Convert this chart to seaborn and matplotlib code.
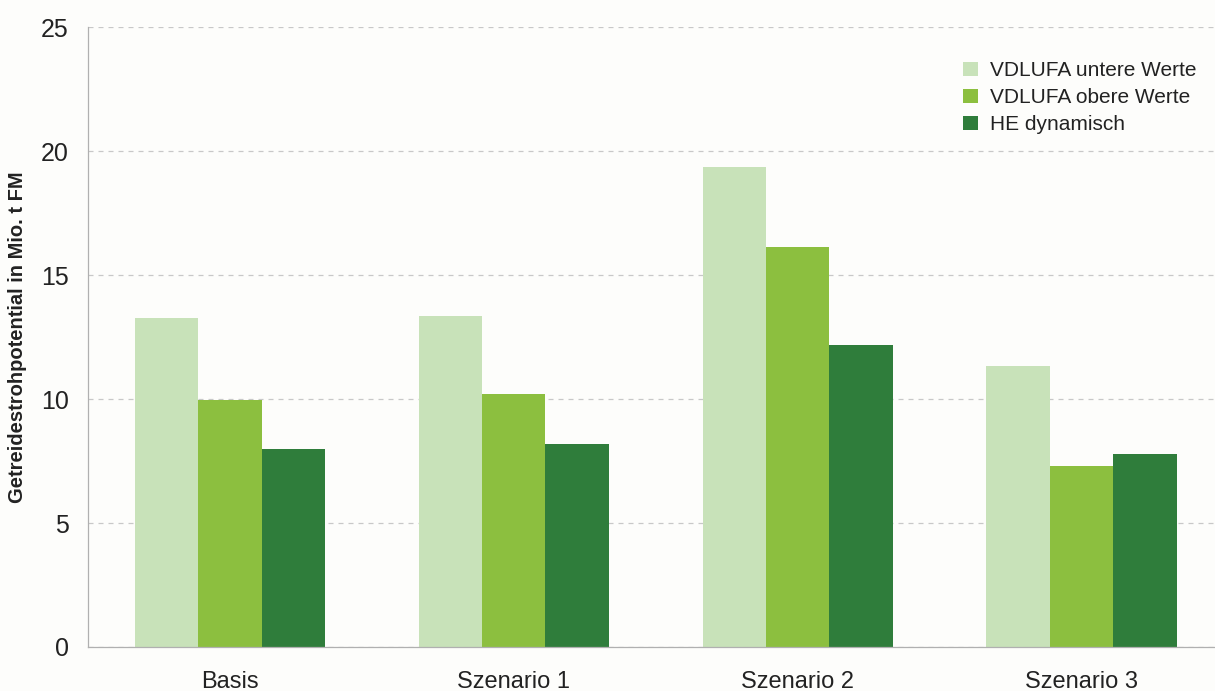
import pandas as pd
import numpy as np
import matplotlib.pyplot as plt
import seaborn as sns

szenarien = ['Basis', 'Szenario 1', 'Szenario 2', 'Szenario 3']
reihen = ['VDLUFA untere Werte', 'VDLUFA obere Werte', 'HE dynamisch']
untere = [13.25, 13.35, 19.35, 11.33]
obere = [9.95, 10.22, 16.12, 7.28]
he_dyn = [8.0, 8.2, 12.2, 7.8]
farben = ['#c8e2b9', '#8cbf3f', '#2f7d3b']
yticks = [0, 5, 10, 15, 20, 25]

df = pd.DataFrame({
    'Szenario': szenarien * 3,
    'Reihe': [r for r in reihen for _ in szenarien],
    'Wert': untere + obere + he_dyn,
})

sns.set_style('white')
plt.rcParams['font.family'] = ['Liberation Sans', 'DejaVu Sans']

fig = plt.figure(figsize=(12.15, 6.91), dpi=100, facecolor='#fdfdfb')
ax = fig.add_axes([0.0724, 0.0637, 0.9276, 0.897])
ax.set_facecolor('#fdfdfb')

sns.barplot(data=df, x='Szenario', y='Wert', hue='Reihe', order=szenarien,
            hue_order=reihen, palette=farben, width=0.67, saturation=1,
            linewidth=0, ax=ax)

ax.set_ylim(0, 25)
ax.set_xlim(-0.5, 3.47)
ax.set_yticks(yticks)
ax.yaxis.grid(True, linestyle=(0, (4, 4)), color='#c8c8c8', linewidth=0.9)
ax.set_axisbelow(True)
ax.tick_params(axis='y', labelsize=18, length=6, color='#b0b0b0', pad=8)
for lab in ax.get_yticklabels():
    lab.set_color('#222222')

# ticks between the categories
ax.set_xticks(np.arange(-0.5, 3.5, 1.0), minor=False)
ax.set_xticklabels([])
ax.set_xticks(np.arange(4), minor=True)
ax.set_xticklabels(szenarien, minor=True, fontsize=17, color='#222222')
ax.tick_params(axis='x', which='major', length=8, color='#b0b0b0', direction='out')
ax.tick_params(axis='x', which='minor', length=0, pad=17)

for s in ['top', 'right']:
    ax.spines[s].set_visible(False)
for s in ['left', 'bottom']:
    ax.spines[s].set_color('#b0b0b0')
    ax.spines[s].set_linewidth(0.9)

ax.set_xlabel('')
ax.set_ylabel('Getreidestrohpotential in Mio. t FM', fontsize=14.5,
              fontweight='bold', color='#222222', labelpad=10)

leg = ax.legend(loc='upper left', bbox_to_anchor=(0.76, 0.975), frameon=False,
                fontsize=15, handlelength=0.7, handleheight=0.7,
                handletextpad=0.6, labelspacing=0.38)
for t in leg.get_texts():
    t.set_color('#222222')

fig.savefig('out.png', dpi=100, facecolor=fig.get_facecolor())
